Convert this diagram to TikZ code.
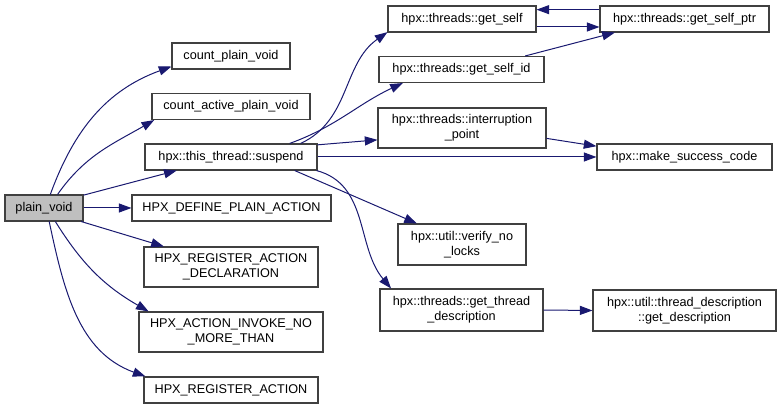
\documentclass[tikz,border=0pt]{standalone}
\usepackage{fontspec}
\setmainfont{Liberation Sans}
\usetikzlibrary{arrows.meta}

\definecolor{edgeblue}{HTML}{191970}
\definecolor{boxline}{HTML}{404040}

\tikzset{
    fn/.style={draw=boxline, line width=0.8pt, fill=white, inner sep=0pt, align=center,
        font=\fontsize{9.5}{11.25}\selectfont, minimum height=19.5pt},
    root/.style={fn, fill=gray!50},
    call/.style={draw=edgeblue, line width=0.75pt, -{Triangle[length=9.5pt, width=6.8pt]}}
}

\begin{document}
\begin{tikzpicture}[x=0.75pt, y=-0.75pt]
    \useasboundingbox (0,0) rectangle (781,409);

    % --- caller ---
    \node[root, minimum width=58.5pt] (plain) at (44,208) {plain\_void};

    % --- first column ---
    \node[fn, minimum width=88.5pt] (cpv) at (231,56) {count\_plain\_void};
    \node[fn, minimum width=118.5pt] (capv) at (231,106.5) {count\_active\_plain\_void};
    \node[fn, minimum width=129pt] (susp) at (231,157) {hpx::this\_thread::suspend};
    \node[fn, minimum width=149.25pt] (hdpa) at (231.5,208) {HPX\_DEFINE\_PLAIN\_ACTION};
    \node[fn, minimum width=130.5pt, minimum height=30pt] (hrad) at (231,267)
        {HPX\_REGISTER\_ACTION\\\_DECLARATION};
    \node[fn, minimum width=138pt, minimum height=30pt] (haint) at (231,332)
        {HPX\_ACTION\_INVOKE\_NO\\\_MORE\_THAN};
    \node[fn, minimum width=130.5pt] (hra) at (231,390) {HPX\_REGISTER\_ACTION};

    % --- second column ---
    \node[fn, minimum width=111pt] (gself) at (462,19) {hpx::threads::get\_self};
    \node[fn, minimum width=123.75pt] (gsid) at (461.5,69.5) {hpx::threads::get\_self\_id};
    \node[fn, minimum width=126pt, minimum height=30pt] (ipt) at (462,128)
        {hpx::threads::interruption\\\_point};
    \node[fn, minimum width=96pt, minimum height=30.75pt] (vnl) at (462,244.5)
        {hpx::util::verify\_no\\\_locks};
    \node[fn, minimum width=122.25pt, minimum height=31.5pt] (gtd) at (461.5,310)
        {hpx::threads::get\_thread\\\_description};

    % --- third column ---
    \node[fn, minimum width=126.75pt] (gsptr) at (684.5,19) {hpx::threads::get\_self\_ptr};
    \node[fn, minimum width=131.25pt] (msc) at (684.5,157) {hpx::make\_success\_code};
    \node[fn, minimum width=137.25pt, minimum height=30.75pt] (gdesc) at (684.5,310.5)
        {hpx::util::thread\_description\\::get\_description};

    % --- calls from plain_void ---
    \draw[call] (plain.65) to[out=70, in=200] (cpv.190);
    \draw[call] (plain.45) to[out=55, in=210] (capv.190);
    \draw[call] (plain.18) -- (susp.194);
    \draw[call] (plain.east) -- (hdpa.west);
    \draw[call] (plain.-20) -- (hrad.163);
    \draw[call] (plain.-50) to[out=-58, in=150] (haint.166);
    \draw[call] (plain.-69) to[out=-78, in=160] (hra.171);

    % --- calls from suspend ---
    \draw[call] (susp.11) to[out=25, in=215] (gself.190);
    \draw[call] (susp.13) to[out=20, in=205] (gsid.193);
    \draw[call] (susp.8) -- (ipt.188);
    \draw[call] (susp.east) -- (msc.west);
    \draw[call] (susp.-12) -- (vnl.155);
    \draw[call] (susp.-9) to[out=-15, in=130] (gtd.163);

    % --- remaining calls ---
    \draw[call] ([yshift=-6pt]gself.east) -- ([yshift=-6pt]gsptr.west);
    \draw[call] ([yshift=7pt]gsptr.west) -- ([yshift=7pt]gself.east);
    \draw[call] (gsid.12) -- (gsptr.191);
    \draw[call] (ipt.-7) -- (msc.173);
    \draw[call] (gtd.east) -- (gdesc.west);

\end{tikzpicture}
\end{document}
